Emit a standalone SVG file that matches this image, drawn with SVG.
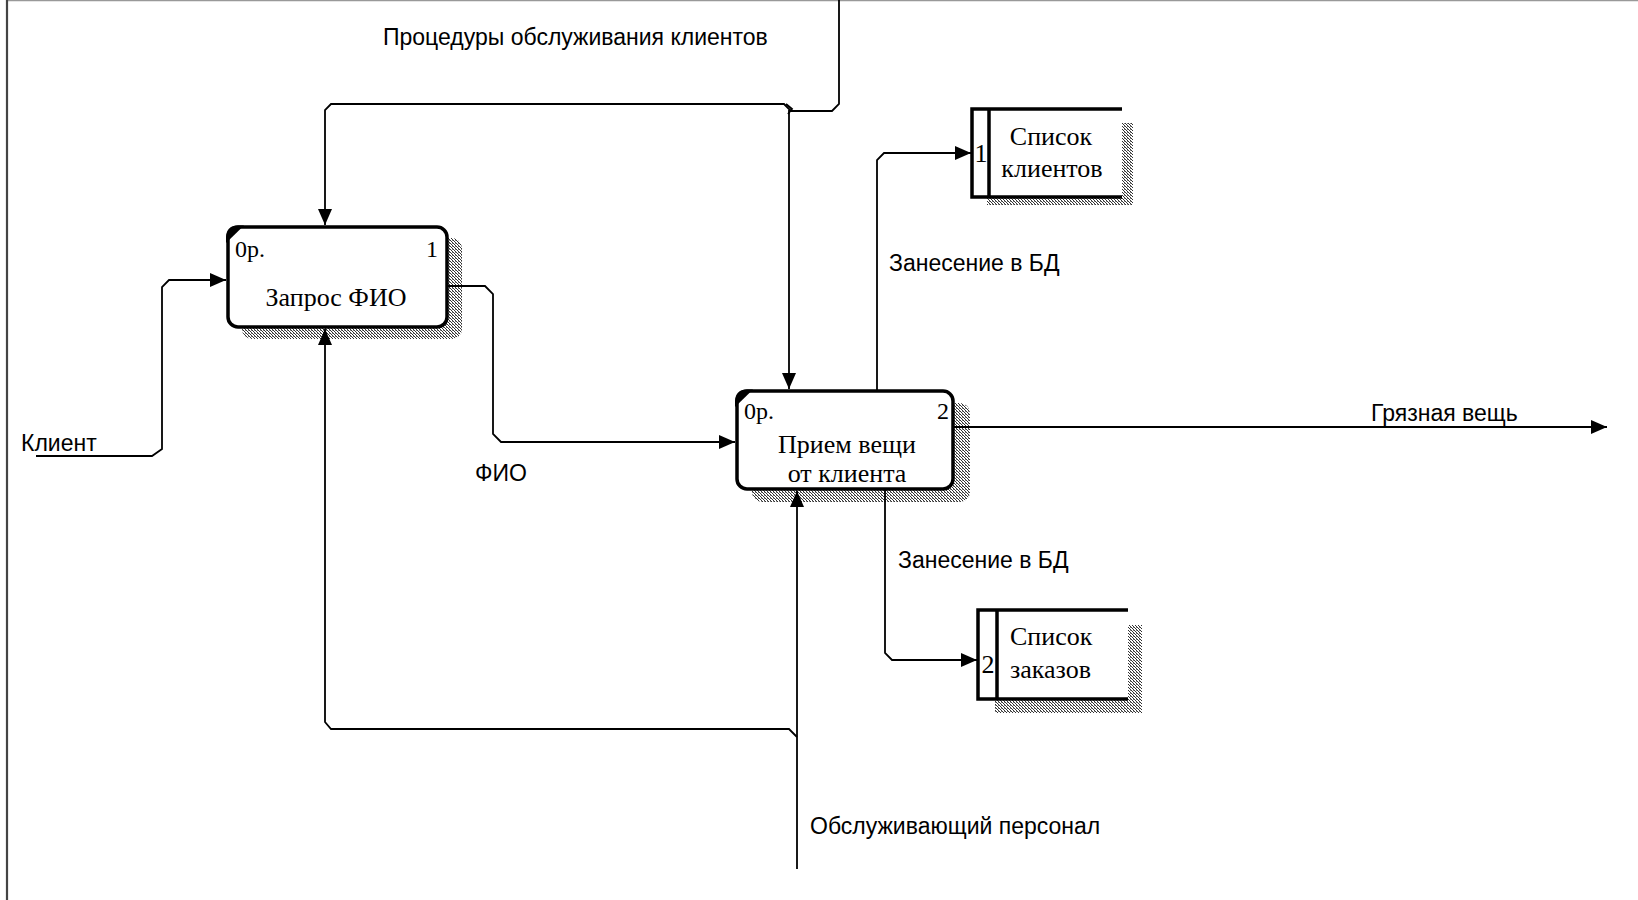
<svg xmlns="http://www.w3.org/2000/svg" width="1638" height="900" viewBox="0 0 1638 900">
  <style>
    .lbl { font-family: "Liberation Sans", Arial, sans-serif; font-size: 23px; fill: #000; }
    .ser { font-family: "Liberation Serif", "Times New Roman", serif; fill: #000; }
    .name { font-size: 26px; }
    .small { font-size: 24px; }
    .box { fill: #fff; stroke: #000; stroke-width: 3.5; }
    .edge { fill: none; stroke: #000; stroke-width: 1.8; }
    .thick { fill: none; stroke: #000; stroke-width: 3.5; }
    .shadow { fill: url(#hatch); }
  </style>
  <defs>
    <!-- dotted drop-shadow texture -->
    <pattern id="hatch" width="3" height="3" patternUnits="userSpaceOnUse">
      <rect x="0" y="0" width="1" height="1" fill="#333"/>
      <rect x="1" y="1" width="1" height="1" fill="#333"/>
      <rect x="2" y="2" width="1" height="1" fill="#333"/>
      <rect x="2" y="0" width="1" height="1" fill="#888"/>
    </pattern>
    <marker id="arrow" markerUnits="userSpaceOnUse" viewBox="0 0 16 14" refX="16" refY="7" markerWidth="16" markerHeight="14" orient="auto">
      <path d="M0,0 L16,7 L0,14 Z" fill="#000"/>
    </marker>
  </defs>

  <!-- page frame -->
  <line x1="7" y1="0.5" x2="1638" y2="0.5" stroke="#999" stroke-width="1.5"/>
  <line x1="7" y1="0" x2="7" y2="900" stroke="#444" stroke-width="2.2"/>

  <!-- activity 1 -->
  <g id="node-zapros-fio">
    <rect class="shadow" x="242" y="238" width="220" height="101" rx="10"/>
    <rect class="box" x="228" y="227" width="219" height="100" rx="10"/>
    <path d="M226,243 L226,237 Q226.5,225.5 238,225.5 L244,225.5 Z" fill="#000"/>
    <text class="ser small" x="235" y="257">0р.</text>
    <text class="ser small" x="438" y="257" text-anchor="end">1</text>
    <text class="ser name" x="336" y="306" text-anchor="middle">Запрос ФИО</text>
  </g>

  <!-- activity 2 -->
  <g id="node-priem-veschi">
    <rect class="shadow" x="752" y="403" width="218" height="99" rx="10"/>
    <rect class="box" x="737" y="391" width="216" height="98" rx="10"/>
    <path d="M735,407 L735,401 Q735.5,389.5 747,389.5 L753,389.5 Z" fill="#000"/>
    <text class="ser small" x="744" y="419">0р.</text>
    <text class="ser small" x="949" y="419" text-anchor="end">2</text>
    <text class="ser name" x="847" y="453" text-anchor="middle">Прием вещи</text>
    <text class="ser name" x="847" y="482" text-anchor="middle">от клиента</text>
  </g>

  <!-- data store 1 -->
  <g id="node-spisok-klientov">
    <rect class="shadow" x="987" y="123" width="146" height="82"/>
    <rect x="972" y="109" width="150" height="88" fill="#fff"/>
    <path class="thick" d="M1122,109 H972 V197 H1122 M989,109 V197"/>
    <text class="ser name" x="981" y="162" text-anchor="middle">1</text>
    <text class="ser name" x="1051" y="145" text-anchor="middle">Список</text>
    <text class="ser name" x="1052" y="177" text-anchor="middle">клиентов</text>
  </g>

  <!-- data store 2 -->
  <g id="node-spisok-zakazov">
    <rect class="shadow" x="995" y="625" width="147" height="88"/>
    <rect x="978" y="610" width="150" height="89" fill="#fff"/>
    <path class="thick" d="M1128,610 H978 V699 H1128 M997,610 V699"/>
    <text class="ser name" x="988" y="673" text-anchor="middle">2</text>
    <text class="ser name" x="1010" y="645">Список</text>
    <text class="ser name" x="1010" y="678">заказов</text>
  </g>

  <!-- connectors -->
  <g id="connectors">
    <!-- input: Клиент -->
    <path class="edge" d="M36,456 H152 L162,449 V287 L169,280 H226" marker-end="url(#arrow)"/>
    <!-- ФИО: activity 1 to activity 2 -->
    <path class="edge" d="M448,286 H485 L493,294 V434 L501,442 H735" marker-end="url(#arrow)"/>
    <!-- control from the top, split to both activities -->
    <path class="edge" d="M839,0 V104 L832,111 H789 V389" marker-end="url(#arrow)"/>
    <path class="edge" d="M791,111 L784,104 H331 L325,110 V225" marker-end="url(#arrow)"/>
    <path class="edge" d="M786,104 L792,109 L788,114"/>
    <!-- outputs to data stores -->
    <path class="edge" d="M877,391 V160 L884,153 H971" marker-end="url(#arrow)"/>
    <path class="edge" d="M885,489 V653 L892,660 H977" marker-end="url(#arrow)"/>
    <!-- output: Грязная вещь -->
    <path class="edge" d="M953,427 H1607" marker-end="url(#arrow)"/>
    <!-- mechanism from the bottom, split to both activities -->
    <path class="edge" d="M797,869 V491" marker-end="url(#arrow)"/>
    <path class="edge" d="M797,737 L789,729 H331 L325,722 V329" marker-end="url(#arrow)"/>
  </g>

  <!-- connector labels -->
  <g id="labels">
    <text class="lbl" x="383" y="45">Процедуры обслуживания клиентов</text>
    <text class="lbl" x="21" y="451">Клиент</text>
    <text class="lbl" x="475" y="481">ФИО</text>
    <text class="lbl" x="889" y="271">Занесение в БД</text>
    <text class="lbl" x="898" y="568">Занесение в БД</text>
    <text class="lbl" x="1371" y="421">Грязная вещь</text>
    <text class="lbl" x="810" y="834">Обслуживающий персонал</text>
  </g>
</svg>
